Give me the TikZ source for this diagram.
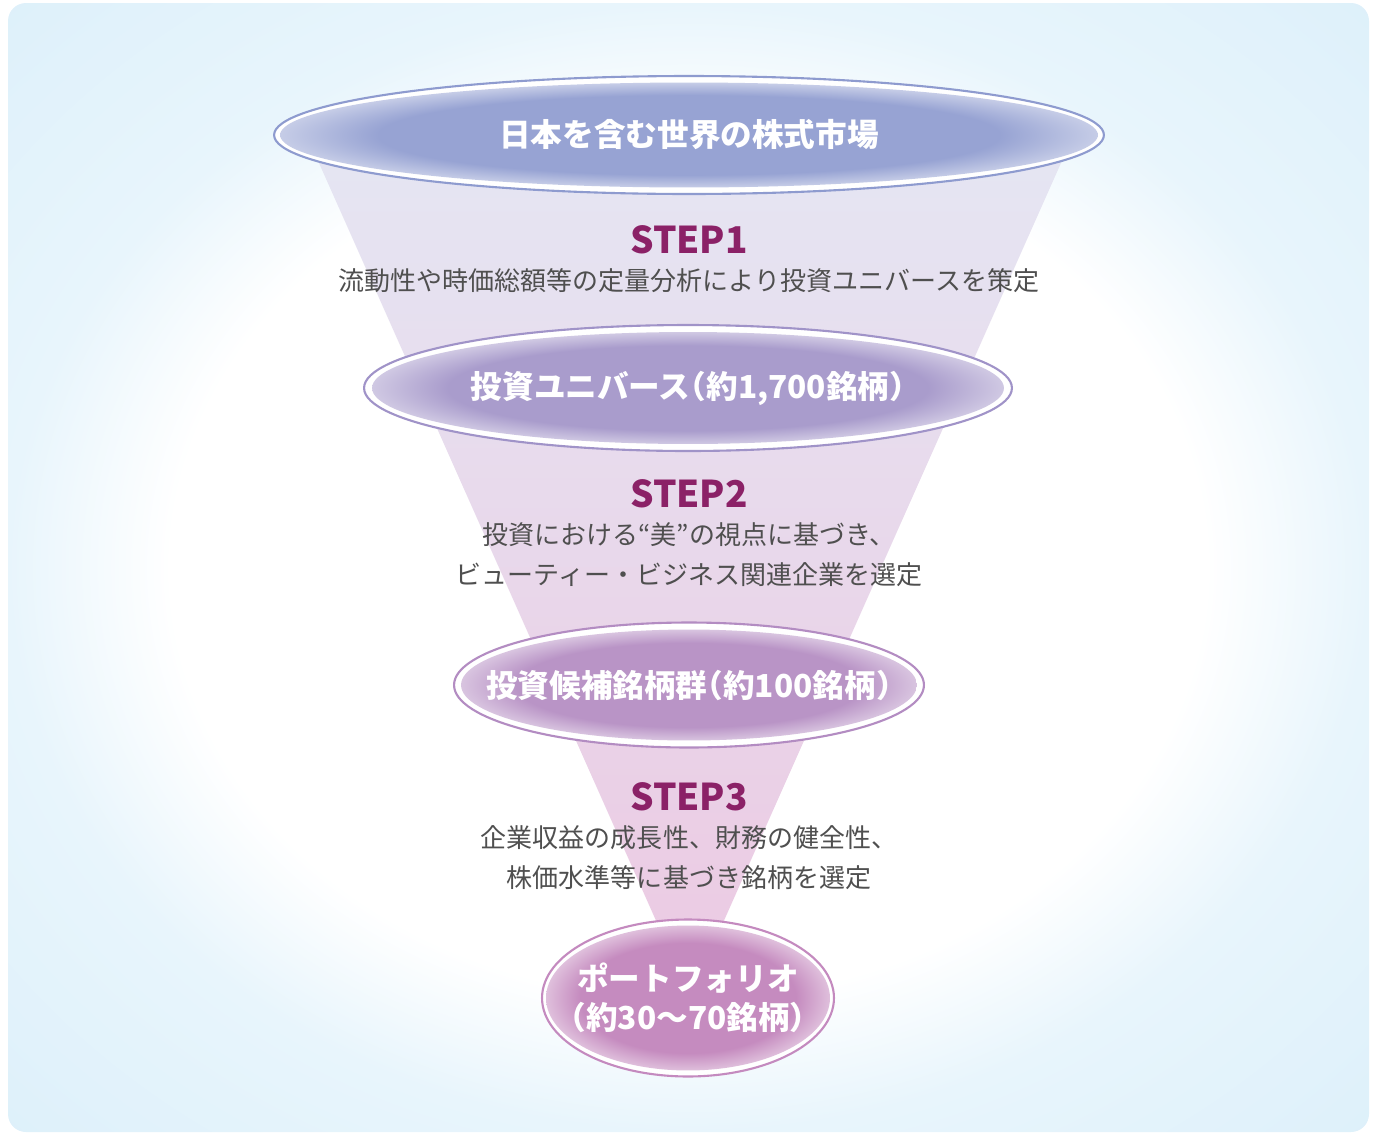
\documentclass[tikz,border=0pt]{standalone}
\usepackage{fontspec}
\setmainfont{Noto Sans CJK JP}
\usetikzlibrary{shapes.geometric}

\definecolor{stepcol}{HTML}{8B2167}
\definecolor{desccol}{HTML}{4F4F4F}
\definecolor{bgblue}{HTML}{E8F5FC}
\definecolor{bgcorner}{HTML}{DDF0FA}
\definecolor{funtop}{HTML}{E5E6F3}
\definecolor{funmid}{HTML}{E8DAEC}
\definecolor{funbot}{HTML}{ECC9E2}
\definecolor{fillA}{HTML}{97A3D3}
\definecolor{lineA}{HTML}{8E9BCF}
\definecolor{fillB}{HTML}{A99CCC}
\definecolor{lineB}{HTML}{A093C8}
\definecolor{fillC}{HTML}{B994C6}
\definecolor{lineC}{HTML}{B38CC2}
\definecolor{fillD}{HTML}{C58BBF}
\definecolor{lineD}{HTML}{C48ABF}

% soft glow of the panel and of the discs
\pgfdeclareradialshading{glow}{\pgfpoint{0bp}{0bp}}{color(0bp)=(white); color(19bp)=(white); color(25bp)=(bgblue); color(36bp)=(bgcorner); color(50bp)=(bgcorner)}
\newcommand{\discshade}[2]{\pgfdeclareradialshading{#1}{\pgfpoint{0bp}{0bp}}{color(0bp)=(#2); color(19bp)=(#2); color(25bp)=(#2!55!white); color(50bp)=(#2!55!white)}}
\discshade{discA}{fillA}
\discshade{discB}{fillB}
\discshade{discC}{fillC}
\discshade{discD}{fillD}

\begin{document}
\begin{tikzpicture}[x=0.02cm,y=-0.02cm,
  ring/.style={ellipse,draw=#1,line width=1.2pt,fill=white,inner sep=0pt},
  disc/.style={ellipse,shading=#1,inner sep=0pt},
  stagelabel/.style={text=white,align=center,
    font=\fontsize{18}{22.5}\selectfont\bfseries\addfontfeatures{RawFeature=+halt}},
  steplabel/.style={text=stepcol,font=\fontsize{21}{25}\selectfont\bfseries},
  stepdesc/.style={text=desccol,align=center,font=\fontsize{14.8}{22.7}\selectfont}]
\useasboundingbox (0,0) rectangle (1377,1133);
\shade[shading=glow,rounded corners=0.36cm] (8,3) rectangle (1369,1132);

% funnel
\coordinate (fl) at (307,136);
\coordinate (fr) at (1073,136);
\coordinate (fb) at (690,997);
\shade[top color=funtop,middle color=funmid,bottom color=funbot] (fl) -- (fr) -- (fb) -- cycle;

% stages
\node[ring=lineA,minimum width=16.6cm,minimum height=2.36cm] (ringA) at (689,135) {};
\node[disc=discA,minimum width=16.36cm,minimum height=2.1cm] (discA) at (ringA) {};
\node[stagelabel] (market) at (discA) {日本を含む世界の株式市場};

\node[ring=lineB,minimum width=12.96cm,minimum height=2.52cm] (ringB) at (688,388) {};
\node[disc=discB,minimum width=12.64cm,minimum height=2.24cm] (discB) at (ringB) {};
\node[stagelabel] (universe) at (discB) {投資ユニバース（約1,700銘柄）};

\node[ring=lineC,minimum width=9.4cm,minimum height=2.5cm] (ringC) at (689,685) {};
\node[disc=discC,minimum width=9.12cm,minimum height=2.22cm] (discC) at (ringC) {};
\node[stagelabel] (candidate) at (discC) {投資候補銘柄群（約100銘柄）};

\node[ring=lineD,minimum width=5.84cm,minimum height=3.14cm] (ringD) at (688,998) {};
\node[disc=discD,minimum width=5.68cm,minimum height=2.9cm] (discD) at (ringD) {};
\node[stagelabel] (portfolio) at (discD) {ポートフォリオ\\（約30～70銘柄）};

% steps
\node[steplabel] (step1) at (689,240) {STEP1};
\node[stepdesc] (desc1) at (689,281) {流動性や時価総額等の定量分析により投資ユニバースを策定};

\node[steplabel] (step2) at (689,494) {STEP2};
\node[stepdesc] (desc2) at (689,555) {投資における“美”の視点に基づき、\\ビューティー・ビジネス関連企業を選定};

\node[steplabel] (step3) at (689,797) {STEP3};
\node[stepdesc] (desc3) at (689,858) {企業収益の成長性、財務の健全性、\\株価水準等に基づき銘柄を選定};
\end{tikzpicture}
\end{document}
